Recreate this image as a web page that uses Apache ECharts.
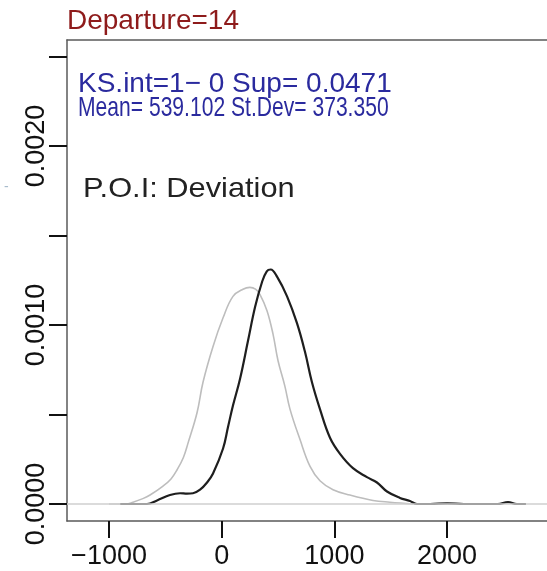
<!DOCTYPE html>
<html>
<head>
<meta charset="utf-8">
<script src="https://cdn.jsdelivr.net/npm/echarts@6/dist/echarts.min.js"></script>
<style>
html,body{margin:0;padding:0;background:#fff;overflow:hidden;width:547px;height:571px;}
#c{width:620px;height:571px;}
</style>
</head>
<body>
<div id="c"></div>
<script>
// ---- data ----
var titleText = "Departure=14";
var ksText = "KS.int=1\u2212 0 Sup= 0.0471";
var meanText = "Mean= 539.102 St.Dev= 373.350";
var poiText = "P.O.I: Deviation";

var xTicks = [-1000, 0, 1000, 2000];
var yTicks = [0, 0.0005, 0.001, 0.0015, 0.002, 0.0025];
var yLabels = [0, 0.001, 0.002];

// grey (reference) density
var grayX = [-1000,-850,-787,-700,-636,-521,-450,-397,-340,-299,-219,-166,-77,12,100,189,250,300,340,402,455,500,560,606,695,784,872,988,1139,1343,1493,1700];
var grayY = [0,0,0.00001,0.00003,0.00005,0.0001,0.00014,0.00019,0.00026,0.00034,0.00051,0.00068,0.00088,0.00104,0.00116,0.0012,0.00121,0.0012,0.00117,0.00108,0.00095,0.0008,0.00066,0.00053,0.00036,0.00021,0.00013,0.00008,0.00005,0.00002,0.00001,0];

// black (observed) density
var blackX = [-900,-663,-574,-459,-370,-308,-255,-192,-130,-77,12,56,100,163,233,296,358,400,435,491,580,668,739,801,872,961,1050,1165,1289,1378,1467,1582,1671,1733,1850,2000,2150,2450,2541,2620,2700];
var blackY = [0,0,0.00002,0.00005,0.00006,0.000058,0.00006,0.00008,0.00012,0.00017,0.00031,0.00043,0.00055,0.0007,0.00091,0.0011,0.00124,0.0013,0.00131,0.00127,0.00116,0.00101,0.00085,0.00068,0.00053,0.00037,0.00028,0.0002,0.00015,0.00012,0.00007,0.000034,0.000017,0,0,0.000004,0,0,0.00001,0,0];

function pairs(xs, ys){ var o=[]; for(var i=0;i<xs.length;i++){o.push([xs[i],ys[i]]);} return o; }

var FONT = "'Liberation Sans', Arial, sans-serif";
var BOX = {show: true, onZero: false, lineStyle: {color: '#5a5a5a', width: 1.5}};
var chart = echarts.init(document.getElementById('c'), null, {renderer:'canvas'});
chart.setOption({
  animation: false,
  backgroundColor: '#ffffff',
  grid: {left: 67, top: 40, width: 520, height: 481, show: false, containLabel: false, outerBoundsMode: 'none'},
  xAxis: [{
    type: 'value', position: 'bottom', min: -1373, max: 3242,
    axisLine: BOX,
    splitLine: {show: false},
    axisTick: {show: true, inside: false, length: 17, lineStyle: {color: '#111', width: 2}, customValues: xTicks},
    axisLabel: {show: true, margin: 22, fontSize: 27, fontFamily: FONT, color: '#111', customValues: xTicks,
      formatter: function(v){ return String(Math.round(v)).replace('-', '\u2212'); }}
  }, {
    type: 'value', position: 'top', min: -1373, max: 3242,
    axisLine: BOX, axisTick: {show: false}, axisLabel: {show: false}, splitLine: {show: false}
  }],
  yAxis: {
    type: 'value', min: -0.000095, max: 0.002592,
    axisLine: BOX,
    splitLine: {show: false},
    axisTick: {show: true, inside: false, length: 18, lineStyle: {color: '#111', width: 2}, customValues: yTicks},
    axisLabel: {show: true, rotate: 90, margin: 17, fontSize: 27, fontFamily: FONT, color: '#111', customValues: yLabels,
      formatter: function(v){ return v.toFixed(4); }}
  },
  series: [
    {
      type: 'line', data: pairs(grayX, grayY), smooth: 0.4, symbol: 'none',
      lineStyle: {color: '#bdbdbd', width: 1.6},
      markLine: {silent: true, symbol: 'none', label: {show: false},
        lineStyle: {color: '#cfcfcf', width: 1.5, type: 'solid'}, data: [{yAxis: 0}]}
    },
    {
      type: 'line', data: pairs(blackX, blackY), smooth: 0.4, symbol: 'none',
      lineStyle: {color: '#1e1e1e', width: 2.2}
    }
  ],
  graphic: [
    {type: 'text', x: 67, y: 7, style: {text: titleText, fill: '#8e1b1b', font: '28px ' + FONT}},
    {type: 'text', x: 78, y: 70, style: {text: ksText, fill: '#2a2a9e', font: '28px ' + FONT}},
    {type: 'text', x: 78, y: 94, scaleX: 0.753, style: {text: meanText, fill: '#2a2a9e', font: '28px ' + FONT}},
    {type: 'text', x: 83, y: 175, scaleX: 1.1, style: {text: poiText, fill: '#222222', font: '28px ' + FONT}},
    {type: 'text', x: 4, y: 180, style: {text: '-', fill: '#a8bccc', font: '14px ' + FONT}}
  ]
});
</script>
</body>
</html>
